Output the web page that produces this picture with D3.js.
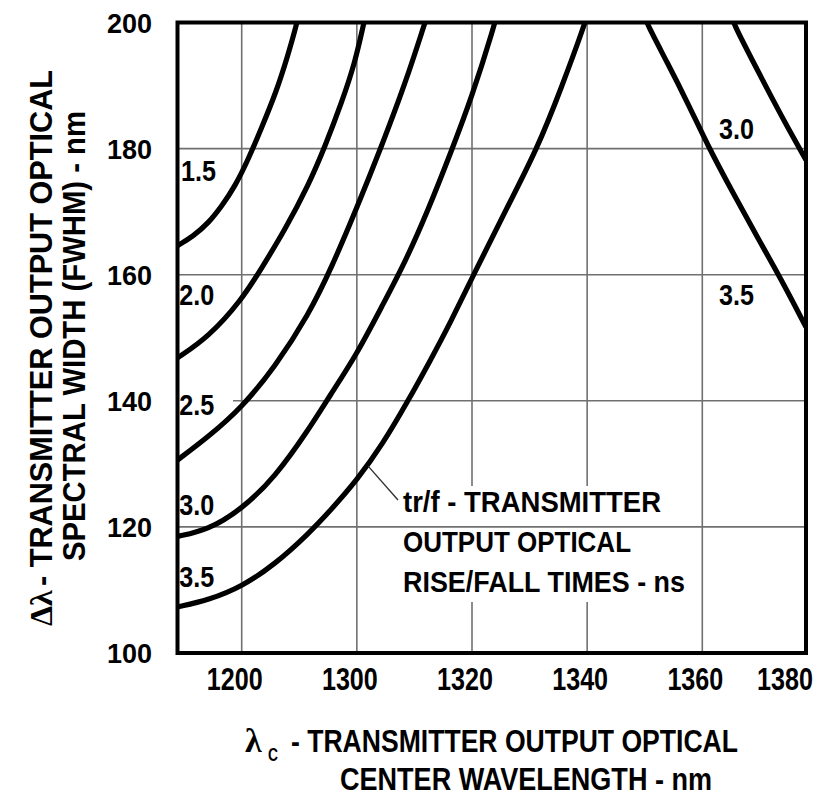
<!DOCTYPE html>
<html>
<head>
<meta charset="utf-8">
<script src="https://cdn.jsdelivr.net/npm/d3@7/dist/d3.min.js"></script>
<style>
  html, body { margin: 0; padding: 0; background: #fff; }
  svg { display: block; }
</style>
</head>
<body>
<div id="chart"></div>
<script>
// ---------- DATA ----------
// x: center wavelength (nm), y: spectral width (nm)
const xTickValues = [1280, 1300, 1320, 1340, 1360, 1380];
const xTickLabels = ["1200", "1300", "1320", "1340", "1360", "1380"];
const yTickValues = [100, 120, 140, 160, 180, 200];
const yTickLabels = ["100", "120", "140", "160", "180", "200"];
const xGridValues = [1280, 1300, 1320, 1340, 1360];
const yGridValues = [120, 140, 160, 180];

const curveNames = ["1.5", "2.0", "2.5", "3.0", "3.5", "3.0", "3.5"];

const rise15 = [[1269,164.6],[1271.7,166.1],[1274.3,168.2],[1276.6,170.9],[1278.9,174.1],[1281.1,178.2],[1283.5,183.4],[1286.0,189.0],[1288.0,194.7],[1289.6,199.9],[1289.8,201]];
const rise20 = [[1269,146.8],[1274.3,150.1],[1280,156.0],[1283.5,161.1],[1287.5,167.1],[1291.6,174.2],[1294.5,180.4],[1297.4,187.4],[1299.7,193.7],[1301.2,199.9],[1301.5,201]];
const rise25 = [[1269,130.6],[1274.3,134.3],[1280,138.9],[1285.8,145.4],[1291.6,153.6],[1295.6,161.1],[1300,170.6],[1304.3,180.4],[1308.4,190.3],[1311.8,199.9],[1312.2,201]];
const rise30 = [[1269,118.5],[1274.2,119.5],[1280,122.8],[1285.8,127.9],[1291.6,135.4],[1295.3,140.8],[1300,147.4],[1304.3,154.9],[1308.4,162.0],[1312.4,170.3],[1316.2,179.1],[1320,188.2],[1324.0,199.9],[1324.2,201]];
const rise35 = [[1269,107.3],[1274.3,108.4],[1280,110.5],[1285.8,114.1],[1291.6,118.9],[1295.6,122.8],[1300,127.4],[1304.4,133.0],[1308.9,140.0],[1312.7,146.3],[1316.2,152.3],[1320.7,160.8],[1325.9,170.3],[1331.3,179.9],[1335.6,189.8],[1339.6,199.8],[1339.9,201]];
const riseR30 = [[1365.8,201],[1365.9,200.0],[1369.6,194.1],[1373.3,188.2],[1376.7,183.0],[1380,178.2]];
const riseR35 = [[1350.1,201],[1350.3,199.9],[1353.9,193.7],[1357.5,187.2],[1361.1,180.4],[1365.9,173.0],[1370.7,165.8],[1375.0,159.6],[1380,151.7]];

const curveSeries = [rise15, rise20, rise25, rise30, rise35, riseR30, riseR35];

// curve label anchor points (data coords: left edge, baseline)
const curveLabelPos = [[1269.6,174.8],[1269.3,155.2],[1269.3,137.8],[1269.3,121.9],[1269.3,110.5],[1363.2,181.6],[1363.2,155.2]];

const annotationLines = ["tr/f - TRANSMITTER", "OUTPUT OPTICAL", "RISE/FALL TIMES - ns"];
const annotationPoint = [1302, 129.6];

// ---------- LAYOUT ----------
const W = 819, H = 796;
const BOLD = "'Liberation Sans',Arial,sans-serif";
const SERIF = "'Liberation Serif','Times New Roman',serif";

const x = d3.scaleLinear().domain([1269, 1280, 1360, 1380]).range([177.5, 241.7, 702.3, 806]);
const y = d3.scaleLinear().domain([100, 200]).range([653, 22.5]);

const svg = d3.select("#chart").append("svg").attr("width", W).attr("height", H);

const x0 = x(1269), x1 = x(1380), yTop = y(200), yBot = y(100);

svg.append("defs").append("clipPath").attr("id", "plot")
  .append("rect").attr("x", x0).attr("y", yTop).attr("width", x1 - x0).attr("height", yBot - yTop);

// vertical grid lines
svg.append("g").selectAll("line").data(xGridValues).join("line")
  .attr("x1", d => x(d)).attr("x2", d => x(d))
  .attr("y1", yTop).attr("y2", yBot)
  .attr("stroke", "#707070").attr("stroke-width", 1.6);

// white knockout behind annotation text (breaks vertical grid lines)
svg.append("rect").attr("x", 398).attr("y", 486).attr("width", 296).attr("height", 116).attr("fill", "#fff");

// horizontal grid lines (140 line starts after the "2.5" label)
svg.append("g").selectAll("line").data(yGridValues).join("line")
  .attr("x1", d => d === 140 ? 233 : x0).attr("x2", x1)
  .attr("y1", d => y(d)).attr("y2", d => y(d))
  .attr("stroke", "#707070").attr("stroke-width", 1.6);

// curves
const line = d3.line().x(d => x(d[0])).y(d => y(d[1])).curve(d3.curveBasis);
svg.append("g").attr("clip-path", "url(#plot)")
  .selectAll("path").data(curveSeries).join("path")
  .attr("d", line).attr("fill", "none").attr("stroke", "#000").attr("stroke-width", 5.2);

// frame
svg.append("rect").attr("x", x0).attr("y", yTop).attr("width", x1 - x0).attr("height", yBot - yTop)
  .attr("fill", "none").attr("stroke", "#000").attr("stroke-width", 4);

// condensed bold text helper
function narrow(sel, size, len) {
  sel.attr("font-family", BOLD).attr("font-weight", "bold").attr("font-size", size)
     .attr("fill", "#000");
  if (len != null) sel.attr("textLength", len).attr("lengthAdjust", "spacingAndGlyphs");
  return sel;
}

// curve labels
svg.append("g").selectAll("text").data(curveNames).join("text")
  .attr("x", (d, i) => x(curveLabelPos[i][0]))
  .attr("y", (d, i) => y(curveLabelPos[i][1]))
  .call(s => narrow(s, 30, 35))
  .text(d => d);

// annotation leader + text
svg.append("line").attr("x1", x(annotationPoint[0])).attr("y1", y(annotationPoint[1]))
  .attr("x2", 398).attr("y2", 500)
  .attr("stroke", "#333").attr("stroke-width", 1.4);
const annWidths = [258, 228, 282];
svg.append("g").selectAll("text").data(annotationLines).join("text")
  .attr("x", 403).attr("y", (d, i) => 512 + i * 40)
  .each(function(d, i) { narrow(d3.select(this), 30, annWidths[i]); })
  .text(d => d);

// x tick labels (condensed by horizontal scaling)
svg.append("g").selectAll("text").data(xTickValues).join("text")
  .attr("transform", (d, i) => `translate(${x(d) + (i === xTickValues.length - 1 ? -21 : -7)},690) scale(0.81,1)`)
  .attr("text-anchor", "middle")
  .call(s => narrow(s, 31))
  .text((d, i) => xTickLabels[i]);

// y tick labels
svg.append("g").selectAll("text").data(yTickValues).join("text")
  .attr("x", 152).attr("y", d => y(d) + 10)
  .attr("text-anchor", "end")
  .attr("font-family", BOLD).attr("font-weight", "bold").attr("font-size", 27)
  .attr("fill", "#000").text((d, i) => yTickLabels[i]);

// x axis title
const xt = svg.append("g");
xt.append("text").attr("x", 245).attr("y", 752)
  .attr("font-family", SERIF).attr("font-weight", "bold").attr("font-size", 34).text("λ");
xt.append("text").attr("x", 268).attr("y", 761)
  .call(s => narrow(s, 18, 10)).text("C");
xt.append("text").attr("x", 291).attr("y", 752)
  .call(s => narrow(s, 31, 447))
  .text("- TRANSMITTER OUTPUT OPTICAL");
xt.append("text").attr("x", 340).attr("y", 790)
  .call(s => narrow(s, 31, 372))
  .text("CENTER WAVELENGTH - nm");

// y axis title (rotated)
const yt = svg.append("g");
yt.append("text").attr("transform", "translate(52,626) rotate(-90)")
  .attr("font-family", SERIF).attr("font-weight", "bold").attr("font-size", 32).text("Δλ");
yt.append("text").attr("transform", "translate(52,586) rotate(-90)")
  .call(s => narrow(s, 31, 516))
  .text("- TRANSMITTER OUTPUT OPTICAL");
yt.append("text").attr("transform", "translate(85,561) rotate(-90)")
  .call(s => narrow(s, 31, 450))
  .text("SPECTRAL WIDTH (FWHM) - nm");
</script>
</body>
</html>
